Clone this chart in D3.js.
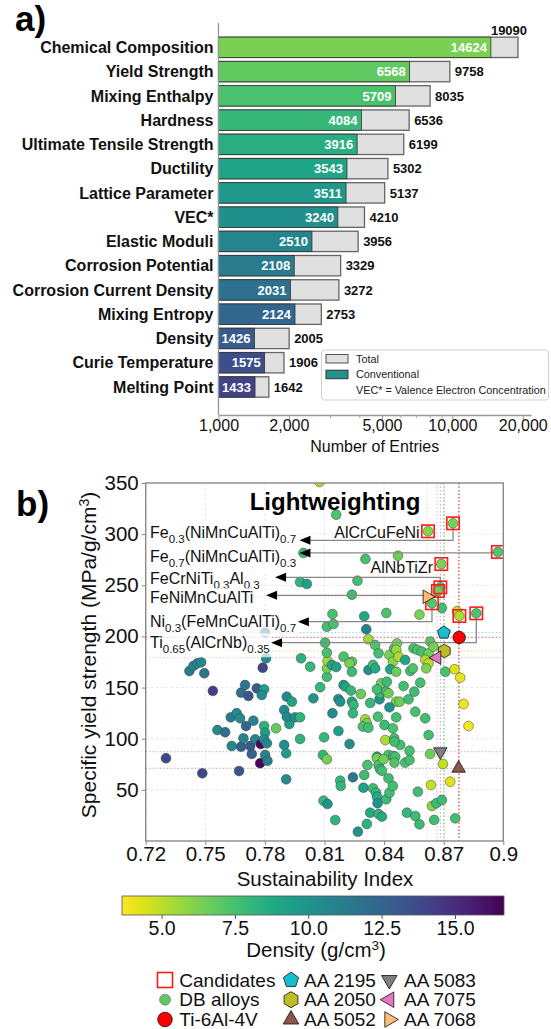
<!DOCTYPE html>
<html>
<head>
<meta charset="utf-8">
<script src="https://cdn.jsdelivr.net/npm/d3@7"></script>
<style>
  body { margin: 0; background: #fff; }
  svg text { font-family: "Liberation Sans", Arial, sans-serif; }
</style>
</head>
<body>
<svg id="chart" width="551" height="1029"></svg>
<script>
// ---------- panel a) data ----------
const categories = ["Chemical Composition", "Yield Strength", "Mixing Enthalpy", "Hardness",
  "Ultimate Tensile Strength", "Ductility", "Lattice Parameter", "VEC*", "Elastic Moduli",
  "Corrosion Potential", "Corrosion Current Density", "Mixing Entropy", "Density",
  "Curie Temperature", "Melting Point"];
const totalEntries = [19090, 9758, 8035, 6536, 6199, 5302, 5137, 4210, 3956, 3329, 3272, 2753, 2005, 1906, 1642];
const conventionalEntries = [14624, 6568, 5709, 4084, 3916, 3543, 3511, 3240, 2510, 2108, 2031, 2124, 1426, 1575, 1433];
const entryTicks = [1000, 2000, 5000, 10000, 20000];
const entryMinorTicks = [3000, 4000, 6000, 7000, 8000, 9000];

// ---------- panel b) data : [sustainability index, specific yield strength, density] ----------
const dbAlloys = [
  [0.8075,351,5.3],[0.8159,319.0,7.3],[0.7994,281.6,7.8],[0.8306,275.7,7.5],[0.8470,278.9,6.5],
  [0.7977,253.2,8.2],[0.8011,251.3,9.2],[0.8266,254.5,7.6],[0.8238,240.8,7.8],[0.8691,227.8,7.6],
  [0.8140,221.9,7.5],[0.8300,219.7,8.9],[0.8411,222.9,7.3],[0.8578,221.3,6.3],[0.8767,224.6,4.8],
  [0.7801,203.7,11.5],[0.7806,178.6,10.5],[0.7789,169.4,14.0],[0.7420,166.2,11.3],[0.7440,171.1,10.8],
  [0.7460,173.7,11.0],[0.7479,174.7,10.6],[0.7495,164.0,11.6],[0.7538,146.7,14.3],[0.7680,145.0,11.8],
  [0.7700,152.5,11.6],[0.7717,141.8,13.2],[0.7759,149.3,12.8],[0.7796,148.3,9.3],[0.7784,142.7,10.4],
  [0.7910,141.1,10.4],[0.7936,136.2,9.0],[0.8044,139.5,10.0],[0.8028,170.4,8.0],[0.7982,178.6,8.3],
  [0.8078,150.3,8.0],[0.8112,160.6,7.6],[0.8112,168.8,6.3],[0.8115,176.0,5.6],[0.8112,184.1,7.5],
  [0.8103,193.9,7.6],[0.7628,120.9,11.4],[0.7658,124.9,10.6],[0.7675,120.0,10.3],[0.7561,108.5,10.5],
  [0.7600,106.3,11.8],[0.7705,112.4,12.5],[0.7742,117.6,10.8],[0.7796,112.4,8.3],[0.7801,105.9,9.4],
  [0.7856,110.2,6.8],[0.7923,114.4,9.4],[0.7897,128.1,10.5],[0.7910,121.5,10.6],[0.7952,120.9,10.2],
  [0.7977,120.9,8.2],[0.7633,92.9,10.6],[0.7680,92.2,12.6],[0.7726,92.9,13.0],[0.7692,100.4,10.8],
  [0.7751,99.4,10.9],[0.7779,94.8,16.4],[0.7796,99.4,10.3],[0.7810,95.5,10.6],[0.7897,93.9,10.2],
  [0.7907,85.7,9.6],[0.7977,99.7,8.2],[0.8098,101.4,8.0],[0.8092,84.1,8.1],[0.7302,80.9,13.8],
  [0.8112,209.5,7.6],[0.8145,212.2,7.4],[0.8137,172.1,9.0],[0.8159,170.1,9.1],[0.8310,207.0,11.0],
  [0.8321,197.2,5.5],[0.8355,191.6,7.3],[0.8372,183.5,7.6],[0.8196,180.2,7.4],[0.8238,175.3,7.2],
  [0.8226,173.7,6.3],[0.8238,165.5,7.8],[0.8321,167.2,10.2],[0.8344,172.1,7.6],[0.8355,168.8,8.8],
  [0.8427,181.9,6.3],[0.8444,175.3,6.0],[0.8451,188.4,7.4],[0.8465,193.3,6.4],[0.8461,186.8,5.6],
  [0.8473,180.2,5.3],[0.8506,177.0,9.0],[0.8431,167.9,9.2],[0.8461,165.5,6.6],[0.8532,166.2,7.5],
  [0.8545,168.8,7.3],[0.8548,188.4,7.6],[0.8568,186.8,7.3],[0.8590,185.1,7.5],[0.8624,183.5,6.5],
  [0.8632,194.9,7.2],[0.8649,190.0,6.4],[0.8607,177.0,5.3],[0.8624,173.7,5.0],[0.8612,168.8,6.2],
  [0.8708,165.5,7.4],[0.8755,167.9,4.3],[0.8783,159.7,4.2],[0.8800,133.9,4.0],[0.8825,112.4,3.9],
  [0.8624,103.6,7.6],[0.8607,120.0,7.6],[0.8170,138.8,10.2],[0.8179,136.2,10.0],[0.8196,152.5,9.2],
  [0.8205,150.9,9.0],[0.8233,147.0,8.0],[0.8283,143.7,6.6],[0.8238,136.2,9.0],[0.8246,133.0,8.0],
  [0.8140,124.9,10.4],[0.8243,124.9,8.0],[0.8330,135.0,8.0],[0.8377,138.5,10.1],[0.8380,144.4,7.8],
  [0.8385,154.2,6.6],[0.8364,148.3,7.6],[0.8411,146.0,7.5],[0.8422,144.4,6.5],[0.8461,136.2,6.3],
  [0.8478,136.2,6.5],[0.8427,130.7,10.0],[0.8414,155.7,7.8],[0.8498,151.5,7.6],[0.8523,138.5,7.7],
  [0.8552,146.0,7.7],[0.8582,154.8,7.6],[0.8557,126.4,7.5],[0.8461,120.9,7.6],[0.8305,119.0,5.5],
  [0.8313,115.1,6.3],[0.8293,111.9,7.5],[0.8321,110.8,7.6],[0.8369,121.5,7.5],[0.8402,113.4,7.8],
  [0.8444,110.2,7.4],[0.8170,107.5,9.3],[0.8226,94.8,10.2],[0.8406,98.7,5.3],[0.8451,100.4,7.5],
  [0.8481,93.9,7.6],[0.8528,88.3,7.5],[0.8632,85.1,6.5],[0.8422,84.1,7.6],[0.8447,83.1,7.5],
  [0.8364,82.4,8.8],[0.7485,66.2,13.9],[0.7670,68.4,13.2],[0.7734,85.1,12.8],[0.7776,76.0,16.5],
  [0.7801,84.1,10.8],[0.7813,78.4,11.2],[0.7907,60.3,10.4],[0.8112,79.9,6.4],[0.8095,39.4,8.0],
  [0.8115,36.2,10.0],[0.8154,20.5,8.2],[0.8179,59.0,8.0],[0.8182,53.8,8.1],[0.8243,62.3,11.5],
  [0.8268,9.1,10.0],[0.8296,52.1,9.2],[0.8300,64.5,7.8],[0.8316,74.3,7.4],[0.8313,16.6,8.3],
  [0.8330,27.7,8.8],[0.8344,51.5,7.8],[0.8360,47.2,8.0],[0.8364,43.3,8.8],[0.8367,36.9,10.0],
  [0.8372,26.4,8.0],[0.8389,23.8,8.8],[0.8364,80.9,6.3],[0.8372,74.3,7.4],[0.8380,70.1,7.8],
  [0.8389,68.7,7.6],[0.8397,79.9,6.4],[0.8422,61.3,7.8],[0.8411,40.8,7.8],[0.8427,47.2,7.6],
  [0.8444,53.8,7.6],[0.8456,82.4,7.5],[0.8452,76.6,7.3],[0.8452,97.1,7.6],[0.8506,76.6,7.5],
  [0.8528,79.2,7.6],[0.8515,27.7,8.0],[0.8557,24.4,7.8],[0.8578,16.3,7.9],[0.8570,48.2,7.8],
  [0.8636,54.8,4.8],[0.8641,34.2,6.0],[0.8652,20.6,7.6],[0.8663,36.9,7.8],[0.8691,40.1,7.8],
  [0.8696,75.3,4.9],[0.8733,58.0,4.3],[0.8758,22.2,7.6]
];
const candidates = [
  [0.8747,310.6,6.3],[0.8621,302.8,6.0],[0.8973,282.6,7.2],[0.8688,270.8,6.2],[0.8683,248.0,7.2],
  [0.8671,244.4,6.5],[0.8641,232.4,7.2],[0.8779,220.0,5.3],[0.8864,222.6,7.4]
];
const refNames = ["Ti-6Al-4V", "AA 2195", "AA 2050", "AA 5052", "AA 5083", "AA 7075", "AA 7068"];
const refSI = [0.8778, 0.8701, 0.8703, 0.8775, 0.8683, 0.8666, 0.8616];
const refStrength = [199.0, 203.7, 185.8, 71.1, 87.3, 179.2, 238.8];

// arrow annotations: label, candidate index, arrow tip SI, arrow strength, text baseline strength
const annoLabels = ["Fe_{0.3}(NiMnCuAlTi)_{0.7}", "Fe_{0.7}(NiMnCuAlTi)_{0.3}", "FeCrNiTi_{0.3}Al_{0.3}",
  "FeNiMnCuAlTi", "Ni_{0.3}(FeMnCuAlTi)_{0.7}", "Ti_{0.65}(AlCrNb)_{0.35}"];
const annoTarget = [0, 2, 4, 5, 6, 8];
const annoTipSI = [0.7974, 0.7974, 0.7851, 0.7806, 0.7966, 0.7831];
const annoArrowY = [294.0, 281.6, 257.8, 240.2, 214.4, 193.9];
const annoTextY = [296.2, 272.8, 251.3, 232.7, 208.9, 188.4];
const inlineLabels = ["AlCrCuFeNi", "AlNbTiZr"];
const inlineSI = [0.8579, 0.8646];
const inlineY = [296.2, 262.0];

const siTicks = [0.72, 0.75, 0.78, 0.81, 0.84, 0.87, 0.9];
const strengthTicks = [50, 100, 150, 200, 250, 300, 350];
const densityTicks = [5, 7.5, 10, 12.5, 15];

// ---------- styles ----------
const refStyle = {
  "Ti-6Al-4V": {shape: "circle", color: "#ff0000"},
  "AA 2195": {shape: "pentagon", color: "#17becf"},
  "AA 2050": {shape: "hexagon", color: "#bcbd22"},
  "AA 5052": {shape: "up", color: "#8c564b"},
  "AA 5083": {shape: "down", color: "#7f7f7f"},
  "AA 7075": {shape: "left", color: "#e377c2"},
  "AA 7068": {shape: "right", color: "#ffbb78"}
};
const font = "'Liberation Sans', Arial, sans-serif";
const svg = d3.select("#chart");

function shapePath(shape, r) {
  if (shape === "circle") return d3.symbol(d3.symbolCircle, Math.PI * r * r)();
  const spec = {pentagon: [5, -Math.PI / 2], hexagon: [6, -Math.PI / 2], up: [3, -Math.PI / 2],
    down: [3, Math.PI / 2], left: [3, Math.PI], right: [3, 0]}[shape];
  const pts = d3.range(spec[0]).map(k => {
    const a = spec[1] + 2 * Math.PI * k / spec[0];
    return [r * Math.cos(a), r * Math.sin(a)];
  });
  return "M" + pts.map(p => p.join(",")).join("L") + "Z";
}

// text with _{sub} and ^{sup} parts
function richText(sel, str, base, small, shift) {
  const parts = str.split(/([_^]\{[^}]*\})/).filter(s => s);
  let cur = 0;
  parts.forEach(p => {
    if (p[1] === "{") {
      const dy = p[0] === "_" ? shift : -shift * 1.4;
      sel.append("tspan").attr("font-size", small).attr("dy", dy - cur).text(p.slice(2, -1));
      cur = dy;
    } else {
      sel.append("tspan").attr("font-size", base).attr("dy", -cur).text(p);
      cur = 0;
    }
  });
}

// =================== panel a) ===================
const ga = svg.append("g");
ga.append("text").attr("x", 15).attr("y", 31).attr("font-size", 35).attr("font-weight", "bold").text("a)");

const xBar = d3.scaleLog().domain([1000, 21700]).range([218.5, 531]);
const yBar = d3.scaleBand().domain(categories).range([35.2, 399.1]).paddingInner(0.16).paddingOuter(0.08);
const barColor = i => d3.interpolateViridis(0.8 - i * 0.043);

ga.selectAll("rect.total").data(categories).join("rect").attr("class", "total")
  .attr("x", xBar(1000)).attr("y", d => yBar(d))
  .attr("width", (d, i) => xBar(totalEntries[i]) - xBar(1000))
  .attr("height", yBar.bandwidth())
  .attr("fill", "#e0e0e0").attr("stroke", "#666").attr("stroke-width", 1.3);

ga.selectAll("rect.conv").data(categories).join("rect").attr("class", "conv")
  .attr("x", xBar(1000)).attr("y", d => yBar(d))
  .attr("width", (d, i) => xBar(conventionalEntries[i]) - xBar(1000))
  .attr("height", yBar.bandwidth())
  .attr("fill", (d, i) => barColor(i)).attr("stroke", "#333").attr("stroke-width", 0.8);

ga.selectAll("text.conv").data(categories).join("text")
  .attr("x", (d, i) => xBar(conventionalEntries[i]) - 4)
  .attr("y", d => yBar(d) + yBar.bandwidth() / 2).attr("dy", "0.36em")
  .attr("text-anchor", "end").attr("font-size", 13).attr("font-weight", "bold").attr("fill", "#fff")
  .text((d, i) => conventionalEntries[i]);

ga.selectAll("text.total").data(categories).join("text")
  .each(function (d, i) {
    const xe = xBar(totalEntries[i]);
    const t = d3.select(this).attr("font-size", 13).attr("font-weight", "bold").attr("fill", "#111")
      .text(totalEntries[i]);
    if (xe + 40 > 531) {
      t.attr("x", xe - 9).attr("y", yBar(d) - 2).attr("text-anchor", "middle");
    } else {
      t.attr("x", xe + 5).attr("y", yBar(d) + yBar.bandwidth() / 2).attr("dy", "0.36em");
    }
  });

ga.selectAll("text.cat").data(categories).join("text")
  .attr("x", 213.5).attr("y", d => yBar(d) + yBar.bandwidth() / 2).attr("dy", "0.36em")
  .attr("text-anchor", "end").attr("font-size", 16).attr("font-weight", "bold").attr("fill", "#111")
  .text(d => d);

ga.append("line").attr("x1", 218.5).attr("x2", 218.5).attr("y1", 23).attr("y2", 415)
  .attr("stroke", "#999").attr("stroke-width", 1.3);

const axA = ga.append("g").attr("transform", "translate(0,415)")
  .call(d3.axisBottom(xBar).tickValues(entryTicks).tickFormat(d3.format(",")).tickSize(5).tickPadding(0).tickSizeOuter(0));
axA.select(".domain").attr("stroke", "#999").attr("stroke-width", 1.3);
axA.selectAll(".tick line").attr("stroke", "#999");
axA.selectAll(".tick text").attr("font-size", 16).attr("font-family", font).attr("fill", "#111");
const axAm = ga.append("g").attr("transform", "translate(0,415)")
  .call(d3.axisBottom(xBar).tickValues(entryMinorTicks).tickFormat("").tickSize(3).tickSizeOuter(0));
axAm.select(".domain").remove();
axAm.selectAll(".tick line").attr("stroke", "#aaa");

ga.append("text").attr("x", 374.7).attr("y", 451.5).attr("text-anchor", "middle")
  .attr("font-size", 16).attr("fill", "#111").text("Number of Entries");

// legend
const lg = ga.append("g");
lg.append("rect").attr("x", 321.5).attr("y", 350).attr("width", 227).attr("height", 50).attr("rx", 3)
  .attr("fill", "#fff").attr("stroke", "#d0d0d0");
lg.append("rect").attr("x", 326).attr("y", 354.5).attr("width", 22).attr("height", 8.5)
  .attr("fill", "#e0e0e0").attr("stroke", "#555");
lg.append("rect").attr("x", 326).attr("y", 370.2).attr("width", 22).attr("height", 8.5)
  .attr("fill", "#21918c").attr("stroke", "#333");
[["Total", 359], ["Conventional", 374.4], ["VEC* = Valence Electron Concentration", 390]].forEach(d => {
  lg.append("text").attr("x", 356).attr("y", d[1]).attr("dy", "0.36em").attr("font-size", 10.8)
    .attr("fill", "#222").text(d[0]);
});

// =================== panel b) ===================
const gb = svg.append("g");
gb.append("text").attr("x", 16).attr("y", 516).attr("font-size", 35).attr("font-weight", "bold").text("b)");

const xS = d3.scaleLinear().domain([0.72, 0.9]).range([145.7, 503.3]);
const yS = d3.scaleLinear().domain([0, 350]).range([841, 483]);
const cS = d3.scaleSequential(t => d3.interpolateViridis(1 - t)).domain([3.65, 16.67]);

svg.append("defs").append("clipPath").attr("id", "plotclip")
  .append("rect").attr("x", 145.7).attr("y", 483).attr("width", 357.6).attr("height", 358);

// grid
gb.selectAll("line.gx").data(siTicks).join("line")
  .attr("x1", d => xS(d)).attr("x2", d => xS(d)).attr("y1", 483).attr("y2", 841)
  .attr("stroke", "#e4e4e4").attr("stroke-dasharray", "3,2").attr("stroke-width", 0.8);
gb.selectAll("line.gy").data(strengthTicks).join("line")
  .attr("x1", 145.7).attr("x2", 503.3).attr("y1", d => yS(d)).attr("y2", d => yS(d))
  .attr("stroke", "#e4e4e4").attr("stroke-dasharray", "3,2").attr("stroke-width", 0.8);

const plot = gb.append("g").attr("clip-path", "url(#plotclip)");

// reference dotted lines
refNames.forEach((n, i) => {
  const c = refStyle[n].color;
  plot.append("line").attr("x1", 145.7).attr("x2", 503.3).attr("y1", yS(refStrength[i])).attr("y2", yS(refStrength[i]))
    .attr("stroke", c).attr("stroke-width", 1).attr("stroke-dasharray", "1.5,2").attr("opacity", 0.55);
  plot.append("line").attr("x1", xS(refSI[i])).attr("x2", xS(refSI[i])).attr("y1", 483).attr("y2", 841)
    .attr("stroke", c).attr("stroke-width", 1).attr("stroke-dasharray", "1.5,2").attr("opacity", 0.6);
});

// DB alloys
plot.selectAll("circle.db").data(dbAlloys).join("circle")
  .attr("cx", d => xS(d[0])).attr("cy", d => yS(d[1])).attr("r", 4.9)
  .attr("fill", d => cS(d[2])).attr("stroke", "#444").attr("stroke-width", 0.5);

// annotation connector lines
annoLabels.forEach((lab, i) => {
  const c = candidates[annoTarget[i]];
  const xc = xS(c[0]), yc = yS(c[1]), ya = yS(annoArrowY[i]), xt = xS(annoTipSI[i]);
  plot.append("path").attr("d", `M${xc},${yc}L${xc},${ya}L${xt + 9},${ya}`)
    .attr("fill", "none").attr("stroke", "#888").attr("stroke-width", 1.3);
});

// candidates
plot.selectAll("circle.cand").data(candidates).join("circle")
  .attr("cx", d => xS(d[0])).attr("cy", d => yS(d[1])).attr("r", 4.9)
  .attr("fill", d => cS(d[2])).attr("stroke", "#444").attr("stroke-width", 0.5);
plot.selectAll("rect.cand").data(candidates).join("rect")
  .attr("x", d => xS(d[0]) - 6.2).attr("y", d => yS(d[1]) - 6.2).attr("width", 12.4).attr("height", 12.4)
  .attr("fill", "none").attr("stroke", "#ff1a1a").attr("stroke-width", 1.6);

// reference alloys
refNames.forEach((n, i) => {
  const s = refStyle[n];
  const r = s.shape === "circle" ? 6.2 : (s.shape === "pentagon" || s.shape === "hexagon") ? 6.8 : 7.8;
  plot.append("path").attr("d", shapePath(s.shape, r))
    .attr("transform", `translate(${xS(refSI[i])},${yS(refStrength[i])})`)
    .attr("fill", s.color).attr("stroke", "#111").attr("stroke-width", 0.8);
});

// labels with translucent boxes and arrowheads
annoLabels.forEach((lab, i) => {
  const t = gb.append("text").attr("x", 150).attr("y", yS(annoTextY[i])).attr("fill", "#111");
  richText(t, lab, 16, 11.5, 5);
  const bb = t.node().getBBox();
  gb.insert("rect", () => t.node()).attr("x", bb.x - 2).attr("y", bb.y - 1).attr("width", bb.width + 4)
    .attr("height", bb.height + 3).attr("fill", "#fff").attr("opacity", 0.7);
  const xt = xS(annoTipSI[i]), ya = yS(annoArrowY[i]);
  gb.append("path").attr("d", `M${xt},${ya}L${xt + 11},${ya - 4.5}L${xt + 11},${ya + 4.5}Z`).attr("fill", "#000");
});
inlineLabels.forEach((lab, i) => {
  gb.append("text").attr("x", xS(inlineSI[i])).attr("y", yS(inlineY[i])).attr("text-anchor", "end")
    .attr("font-size", 16).attr("fill", "#111").text(lab);
});

gb.append("text").attr("x", 335).attr("y", 510).attr("text-anchor", "middle")
  .attr("font-size", 24).attr("font-weight", "bold").attr("fill", "#000").text("Lightweighting");

// frame + axes
gb.append("rect").attr("x", 145.7).attr("y", 483).attr("width", 357.6).attr("height", 358)
  .attr("fill", "none").attr("stroke", "#8a8a8a").attr("stroke-width", 1.4);
const axX = gb.append("g").attr("transform", "translate(0,841)")
  .call(d3.axisBottom(xS).tickValues(siTicks).tickFormat(d => d3.format(".2f")(d).replace(/0$/, "")).tickSize(4).tickPadding(1));
const axY = gb.append("g").attr("transform", "translate(145.7,0)")
  .call(d3.axisLeft(yS).tickValues(strengthTicks).tickSize(4).tickPadding(3));
[axX, axY].forEach(ax => {
  ax.select(".domain").remove();
  ax.selectAll(".tick line").attr("stroke", "#888");
  ax.selectAll(".tick text").attr("font-size", 20.5).attr("font-family", font).attr("fill", "#111");
});
gb.append("text").attr("x", 325).attr("y", 886).attr("text-anchor", "middle").attr("font-size", 20.5)
  .attr("fill", "#111").text("Sustainability Index");
const yt = gb.append("text").attr("transform", "translate(96,655) rotate(-90)").attr("text-anchor", "middle")
  .attr("fill", "#111");
richText(yt, "Specific yield strength (MPa/g/cm^{3})", 21, 14, 5);

// colorbar
const grad = svg.select("defs").append("linearGradient").attr("id", "cbgrad");
d3.range(0, 1.0001, 0.05).forEach(t => {
  grad.append("stop").attr("offset", t).attr("stop-color", cS(3.65 + t * (16.67 - 3.65)));
});
const xC = d3.scaleLinear().domain([3.65, 16.67]).range([122, 504]);
gb.append("rect").attr("x", 122).attr("y", 896).attr("width", 382).attr("height", 19)
  .attr("fill", "url(#cbgrad)").attr("stroke", "#555").attr("stroke-width", 0.8);
const axC = gb.append("g").attr("transform", "translate(0,915)")
  .call(d3.axisBottom(xC).tickValues(densityTicks).tickFormat(d3.format(".1f")).tickSize(4).tickPadding(2));
axC.select(".domain").remove();
axC.selectAll(".tick line").attr("stroke", "#555");
axC.selectAll(".tick text").attr("font-size", 19.5).attr("font-family", font).attr("fill", "#111");
const dl = gb.append("text").attr("x", 316).attr("y", 957).attr("text-anchor", "middle").attr("fill", "#111");
richText(dl, "Density (g/cm^{3})", 20.5, 13.5, 5);

// bottom legend
const legendCols = [165, 291, 389.3];
const legendRows = [980, 999.7, 1019.5];
const legendItems = [
  ["Candidates", "cand", 0, 0], ["DB alloys", "db", 0, 1], ["Ti-6Al-4V", "Ti-6Al-4V", 0, 2],
  ["AA 2195", "AA 2195", 1, 0], ["AA 2050", "AA 2050", 1, 1], ["AA 5052", "AA 5052", 1, 2],
  ["AA 5083", "AA 5083", 2, 0], ["AA 7075", "AA 7075", 2, 1], ["AA 7068", "AA 7068", 2, 2]
];
const bl = gb.append("g");
legendItems.forEach(([label, kind, c, r]) => {
  const x = legendCols[c], y = legendRows[r];
  if (kind === "cand") {
    bl.append("rect").attr("x", x - 7.5).attr("y", y - 7.5).attr("width", 15).attr("height", 15)
      .attr("fill", "none").attr("stroke", "#ff1a1a").attr("stroke-width", 1.6);
  } else if (kind === "db") {
    bl.append("circle").attr("cx", x).attr("cy", y).attr("r", 5.5).attr("fill", "#5ec962")
      .attr("stroke", "#555").attr("stroke-width", 0.5);
  } else {
    const s = refStyle[kind];
    const rr = s.shape === "circle" ? 7.3 : (s.shape === "pentagon" || s.shape === "hexagon") ? 8 : 9;
    bl.append("path").attr("d", shapePath(s.shape, rr)).attr("transform", `translate(${x},${y})`)
      .attr("fill", s.color).attr("stroke", "#111").attr("stroke-width", 0.8);
  }
  bl.append("text").attr("x", x + (c === 0 ? 14.3 : c === 1 ? 13 : 14.7)).attr("y", y).attr("dy", "0.35em")
    .attr("font-size", 19).attr("fill", "#111").text(label);
});
</script>
</body>
</html>
